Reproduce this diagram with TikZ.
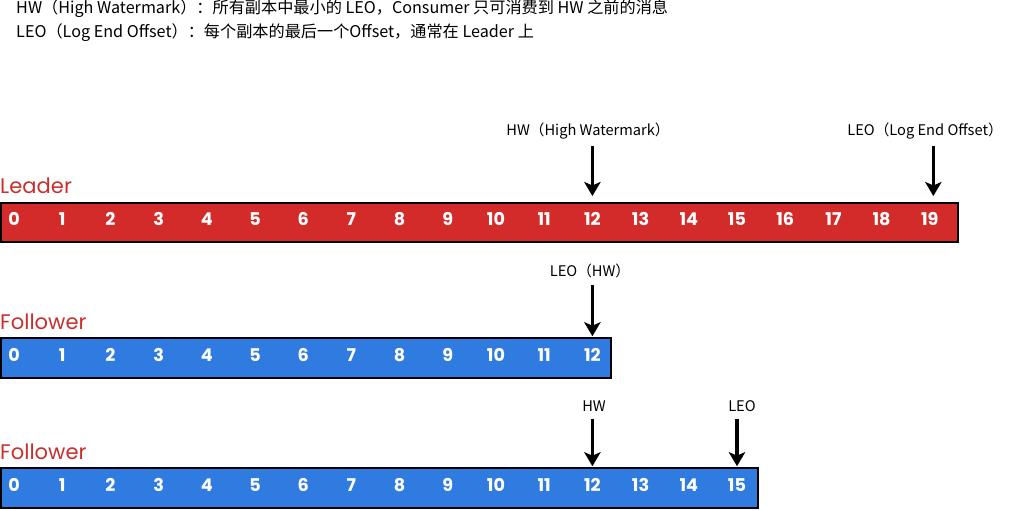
\documentclass[tikz,border=0pt]{standalone}
\usepackage{fontspec}
\setmainfont{Noto Sans CJK SC}
\newfontfamily\roundfont{Poppins}
\usepackage{tikz}
\usetikzlibrary{arrows.meta, positioning}

\definecolor{barred}{RGB}{211,42,42}
\definecolor{barblue}{RGB}{47,123,224}
\definecolor{titlered}{RGB}{200,48,46}

\begin{document}
\begin{tikzpicture}[
        x=0.03cm, y=-0.03cm,
        bar/.style={draw=black, line width=1.6pt, rectangle, minimum height=1.18cm, inner sep=0pt},
        cell/.style={text=white, font=\roundfont\bfseries\fontsize{15}{17}\selectfont, inner sep=0pt},
        role/.style={anchor=west, text=titlered, font=\roundfont\fontsize{18}{20}\selectfont, inner sep=0pt},
        tag/.style={font=\fontsize{12.5}{14}\selectfont, inner sep=0pt},
        note/.style={anchor=west, font=\fontsize{13.8}{16}\selectfont, inner sep=0pt},
        ptr/.style={-{Stealth[length=12pt, width=14pt, inset=3pt]}, line width=3pt, shorten <=6pt}
    ]
        \useasboundingbox (0,0) rectangle (1021,511);

        % notes on top
        \node (note1) [note] at (16,9) {HW（High Watermark）：所有副本中最小的 LEO，Consumer 只可消费到 HW 之前的消息};
        \node (note2) [note] at (16,33) {LEO（Log End Offset）：每个副本的最后一个Offset，通常在 Leader 上};

        % leader
        \node (leadername) [role] at (0,186) {Leader};
        \node (leader) [bar, fill=barred, minimum width=28.71cm] at (479.5,222.5) {};
        \foreach \i in {0,...,19}
            \node (l\i) [cell] at (14+48.2*\i,219) {\i};

        % first follower
        \node (fonename) [role] at (0,322) {Follower};
        \node (fone) [bar, fill=barblue, minimum width=18.3cm] at (306,358) {};
        \foreach \i in {0,...,12}
            \node (f\i) [cell] at (14+48.2*\i,355) {\i};

        % second follower
        \node (ftwoname) [role] at (0,452) {Follower};
        \node (ftwo) [bar, fill=barblue, minimum width=22.71cm] at (379.5,488) {};
        \foreach \i in {0,...,15}
            \node (g\i) [cell] at (14+48.2*\i,485) {\i};

        % markers
        \node (lhw) [tag] at (588,131) {HW（High Watermark）};
        \node (lleo) [tag] at (925,131) {LEO（Log End Offset）};
        \node (fleo) [tag] at (590,271) {LEO（HW）};
        \node (ghw) [tag] at (594,406) {HW};
        \node (gleo) [tag] at (742,406) {LEO};

        \draw [ptr] (l12 |- lhw.south) -- ([yshift=5pt]l12 |- leader.north);
        \draw [ptr] ([xshift=3pt]l19 |- lleo.south) -- ([xshift=3pt, yshift=5pt]l19 |- leader.north);
        \draw [ptr] (f12 |- fleo.south) -- ([yshift=1pt]f12 |- fone.north);
        \draw [ptr] (g12 |- ghw.south) -- ([yshift=1pt]g12 |- ftwo.north);
        \draw [ptr] (g15 |- gleo.south) -- ([yshift=1pt]g15 |- ftwo.north);
    \end{tikzpicture}
\end{document}
